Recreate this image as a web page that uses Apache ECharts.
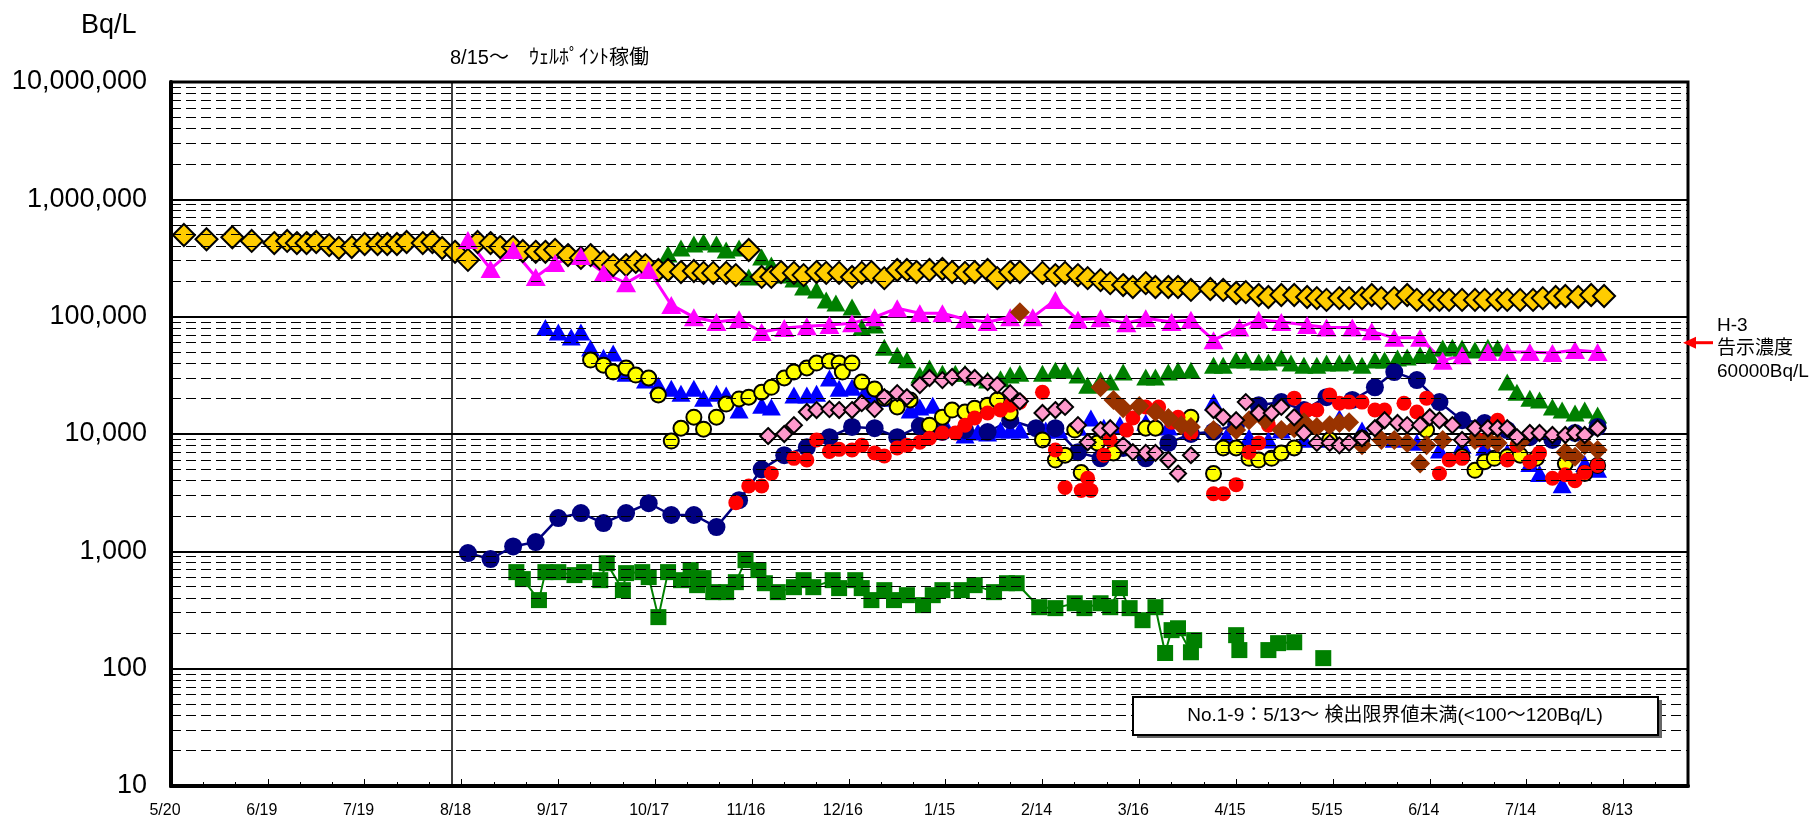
<!DOCTYPE html>
<html>
<head>
<meta charset="utf-8">
<title>H-3 濃度推移</title>
<script src="https://cdn.jsdelivr.net/npm/echarts@6/dist/echarts.min.js"></script>
<style>
  html, body { margin: 0; padding: 0; background: #fff; }
  #chart { width: 1818px; height: 825px; }
</style>
</head>
<body>
<div id="chart"></div>
<script>
// x = days since 2013-05-20, y = Bq/L
const xTickLabels = ['5/20', '6/19', '7/19', '8/18', '9/17', '10/17', '11/16', '12/16', '1/15', '2/14', '3/16', '4/15', '5/15', '6/14', '7/14', '8/13']
const yTickLabels = ['10', '100', '1,000', '10,000', '100,000', '1,000,000', '10,000,000']
const wellPointDay = 87 // 8/15
const limitValue = 60000

const goldDiamond = [[4,497000],[11,457000],[19,475000],[25,442000],[32,424000],[36,442000],[39,424000],[42,424000],[45,433000],[49,407000],[52,385000],[56,392000],[60,416000],[64,416000],[67,416000],[70,416000],[73,433000],[78,424000],[81,433000],[84,385000],[88,357000],[92,305000],[95,433000],[99,424000],[102,392000],[106,392000],[109,363000],[113,357000],[116,357000],[119,371000],[123,335000],[127,317000],[130,335000],[134,293000],[137,275000],[141,275000],[144,293000],[147,275000],[151,250000],[154,250000],[158,240000],[162,245000],[165,236000],[168,236000],[172,236000],[175,226000],[179,370000],[183,218000],[186,218000],[189,240000],[193,236000],[196,226000],[200,240000],[203,236000],[207,236000],[211,218000],[214,236000],[217,240000],[221,213000],[225,250000],[228,250000],[231,240000],[235,250000],[239,255000],[242,240000],[246,236000],[249,240000],[253,250000],[256,213000],[260,240000],[263,240000],[270,236000],[274,226000],[277,236000],[281,226000],[284,213000],[288,205000],[291,193000],[295,186000],[298,179000],[302,193000],[305,179000],[309,179000],[312,179000],[316,169000],[322,172000],[326,169000],[330,159000],[333,162000],[337,153000],[340,147000],[344,153000],[348,153000],[352,147000],[355,144000],[358,139000],[362,144000],[365,144000],[369,144000],[372,153000],[375,144000],[379,144000],[383,153000],[386,139000],[390,139000],[393,139000],[396,139000],[400,139000],[404,139000],[407,139000],[411,139000],[414,139000],[418,139000],[422,139000],[425,144000],[429,147000],[432,150000],[436,147000],[440,153000],[444,150000]]

const magentaTriangle = [[92,450000],[99,255000],[106,370000],[113,218000],[119,287000],[127,329000],[134,236000],[141,193000],[148,250000],[155,126000],[162,99000],[169,90000],[176,95000],[183,74000],[190,80000],[197,83000],[204,85000],[211,88000],[218,99000],[225,118000],[232,107000],[239,107000],[246,95000],[253,90000],[260,99000],[267,99000],[274,139000],[281,94000],[288,97000],[296,88000],[302,97000],[310,90000],[316,94000],[323,63000],[331,81000],[337,94000],[344,90000],[352,85000],[358,81000],[366,81000],[372,75000],[379,66000],[387,66000],[394,42000],[400,47000],[408,50000],[414,50000],[421,50000],[428,49000],[435,52000],[442,50000]]

const greenTriangle = [[154,342000],[158,385000],[162,416000],[165,433000],[169,416000],[172,370000],[176,385000],[179,218000],[183,322000],[186,275000],[190,226000],[193,209000],[196,179000],[200,169000],[203,139000],[206,131000],[211,121000],[214,81000],[218,85000],[221,55000],[225,47000],[228,43000],[232,31800],[235,36500],[239,33000],[243,33000],[246,33000],[249,30600],[253,28800],[257,29500],[260,31800],[263,33000],[270,33000],[274,35000],[277,35000],[281,31800],[284,26000],[288,28800],[291,27700],[295,33700],[302,30600],[305,30600],[309,33700],[312,35000],[316,35000],[323,38600],[326,38600],[330,42700],[333,42700],[337,41000],[340,41000],[344,44400],[347,40200],[351,38600],[355,38600],[358,40200],[362,40200],[365,41000],[369,38600],[373,42700],[376,42700],[380,44400],[383,45300],[387,47100],[390,47100],[394,54000],[397,55000],[400,54000],[404,51900],[408,55000],[411,54000],[414,27700],[417,22700],[421,20200],[424,19500],[428,17000],[431,16000],[435,15100],[438,16000],[442,14500]]

const blueTriangle = [[116,81000],[120,74000],[124,67000],[127,74000],[130,54000],[134,45000],[137,49000],[141,33000],[147,28800],[151,26000],[155,24600],[158,22300],[162,24600],[165,20200],[169,22300],[172,21500],[176,16000],[183,17600],[186,17000],[193,21500],[197,21500],[200,22300],[204,30000],[207,24600],[211,25000],[215,22700],[218,21500],[221,20200],[229,16000],[232,17000],[236,17600],[239,13100],[246,9800],[250,10400],[253,10200],[257,10800],[260,10800],[263,10800],[271,10800],[275,10800],[281,11400],[285,13700],[289,11400],[294,12000],[302,12600],[309,11500],[316,10500],[323,18700],[327,9500],[334,9400],[340,8900],[344,10800],[351,9000],[358,9000],[362,13700],[369,10800],[379,9000],[386,8500],[393,7300],[400,8000],[407,7700],[414,7000],[421,5600],[424,4600],[431,3700],[438,5600],[442,5000]]

const navyCircle = [[92,966],[99,859],[106,1100],[113,1200],[120,1920],[127,2120],[134,1740],[141,2120],[148,2570],[155,2040],[162,2040],[169,1610],[176,2730],[183,5000],[190,6600],[197,7700],[204,9400],[211,11500],[218,11200],[225,9400],[232,11700],[239,10400],[246,10800],[253,10400],[260,13100],[268,11200],[274,11200],[281,7000],[288,6200],[295,7600],[302,6200],[309,8400],[316,10000],[323,10500],[330,12000],[337,17600],[344,18700],[351,16000],[358,20600],[366,19500],[373,25000],[379,33700],[386,28800],[393,18700],[400,13100],[407,12400],[414,10800],[421,9400],[428,8900],[435,10200],[442,11500]]

const yellowCircle = [[130,42700],[134,38600],[137,33700],[141,36500],[144,31800],[148,30000],[151,21500],[155,8700],[158,11200],[162,13900],[165,11000],[169,13900],[172,18000],[176,19900],[179,20600],[183,22700],[186,25000],[190,30000],[193,33700],[197,36500],[200,40200],[204,41800],[207,40200],[208,33700],[211,40200],[214,27700],[218,24200],[221,20200],[225,17000],[229,19500],[235,11900],[239,13900],[242,16000],[246,15400],[249,16600],[253,17600],[256,19500],[260,15100],[270,8900],[274,6000],[277,6600],[280,10800],[282,4700],[287,8400],[292,6900],[302,11200],[305,11200],[316,13900],[323,4600],[326,7600],[330,7600],[334,6200],[337,6000],[341,6200],[344,6900],[348,7600],[359,8900],[369,9200],[389,10800],[400,6400],[404,4900],[407,5800],[410,6200],[414,6400],[418,6600],[423,6200],[432,5600],[438,4600],[442,5400]]

const redCircle = [[175,2600],[179,3600],[183,3600],[186,4600],[193,6200],[197,6000],[200,8900],[204,7100],[207,7400],[211,7300],[214,8000],[218,6900],[221,6500],[225,7600],[228,8000],[232,8500],[235,9200],[239,10200],[243,10200],[246,11900],[249,13700],[253,15100],[257,16000],[260,17600],[263,18700],[270,22700],[274,7300],[277,3500],[282,3300],[284,4200],[285,3300],[289,6600],[291,8900],[296,10800],[298,13700],[302,17000],[306,17000],[310,12600],[312,13900],[316,10200],[323,3100],[326,3100],[330,3700],[334,7000],[337,8400],[340,11900],[348,20200],[352,16000],[355,16000],[359,21500],[362,18300],[365,18700],[369,18700],[373,16000],[376,16000],[382,18300],[386,15400],[389,20200],[393,4600],[396,6000],[400,6200],[405,8900],[411,13100],[414,6000],[417,8000],[421,5800],[424,6900],[428,4200],[432,4500],[435,4000],[438,4700],[442,5400]]

const pinkDiamond = [[185,9600],[190,10000],[193,11900],[197,15400],[200,16000],[204,16300],[207,16000],[211,16000],[214,18300],[218,16300],[221,20600],[225,22300],[228,20600],[232,26100],[235,30000],[239,28800],[242,30600],[246,31800],[249,30000],[253,27700],[256,26100],[260,22300],[263,19000],[270,15100],[274,16000],[277,17000],[281,11900],[284,8500],[288,10800],[291,11200],[295,8000],[298,7000],[302,6900],[305,6900],[309,6000],[312,4600],[316,6600],[323,16000],[326,13900],[330,13100],[333,18700],[337,15100],[341,15100],[344,17000],[348,13900],[351,10200],[355,8400],[359,8400],[362,8000],[365,8400],[369,9200],[373,11200],[376,13100],[380,12400],[383,11900],[387,11900],[390,13900],[393,13100],[397,11900],[400,8900],[404,11200],[408,11200],[411,11200],[414,11200],[417,9400],[421,10200],[424,10200],[428,9800],[432,9800],[435,10200],[438,9800],[442,11200]]

const brownDiamond = [[263,109000],[288,25000],[292,19500],[295,16600],[300,17300],[305,15400],[309,13700],[313,11900],[316,11500],[323,10800],[330,10800],[334,13100],[339,13100],[344,10800],[348,11200],[351,12600],[355,11500],[359,11900],[362,12400],[365,12600],[369,8000],[375,8900],[379,8900],[383,8400],[387,5600],[389,8000],[394,8900],[404,8900],[408,8900],[411,8400],[418,8500],[432,7000],[435,6400],[438,8000],[442,7300]]

// null = break in the line
const greenSquare = [[107,665],[109,580],[114,384],[116,665],[120,665],[125,627],[128,665],[133,568],[135,792],[140,467],[141,652],[146,665],[148,603],[151,275],[154,665],[158,568],[161,692],[163,515],[165,591],[168,449],[172,449],[175,546],[178,841],[182,692],[184,535],[188,449],[193,495],[196,568],[199,495],[205,568],[207,486],[212,568],[214,486],[217,384],[221,467],[224,384],[228,423],[233,348],[236,423],[239,467],[245,467],[249,515],[255,449],[259,535],[262,535],[269,334],[274,328],[280,361],[283,328],[288,361],[291,334],[294,486],[297,328],[301,259],[305,334],[308,136],[310,213],[312,221],[316,138],[317,175],[322,null],[330,193],[331,144],[335,null],[340,144],[343,165],[348,168],[352,null],[357,123]]

const FONT = "'Liberation Sans', 'Noto Sans CJK JP', sans-serif"

// 2,3,...,9 x each decade for the dashed grid
const minorGridValues = []
for (let d = 10; d < 1e7; d *= 10) {
    for (let k = 2; k <= 9; k++) minorGridValues.push(k * d)
}

const toSeriesData = (arr) => arr.map(p => p[1] == null ? [p[0], '-'] : p)

const scatterSeries = (name, data, symbol, size, color, border) => ({
    name,
    type: 'scatter',
    data: toSeriesData(data),
    symbol,
    symbolSize: size,
    z: 3,
    itemStyle: border
        ? { color, borderColor: '#000', borderWidth: 2, opacity: 1 }
        : { color, opacity: 1 }
})

const lineSeries = (name, data, symbol, size, color, width) => ({
    name,
    type: 'line',
    data: toSeriesData(data),
    symbol,
    symbolSize: size,
    showSymbol: true,
    connectNulls: false,
    z: 3,
    lineStyle: { color, width },
    itemStyle: { color, opacity: 1 }
})

const option = {
    backgroundColor: '#fff',
    animation: false,
    textStyle: { fontFamily: FONT },
    grid: {
        left: 171,
        right: 130,
        top: 82,
        bottom: 39,
        show: true,
        backgroundColor: '#fff',
        borderColor: '#000',
        borderWidth: 3,
        outerBoundsMode: 'none'
    },
    xAxis: {
        type: 'value',
        min: 0,
        max: 470,
        interval: 30,
        axisLine: { show: true, onZero: false, lineStyle: { color: '#000', width: 4 } },
        axisTick: { show: true, inside: true, length: 7, lineStyle: { color: '#000', width: 1 } },
        minorTick: { show: true, splitNumber: 3, length: 4, lineStyle: { color: '#000', width: 1 } },
        splitLine: { show: false },
        axisLabel: {
            color: '#000',
            fontSize: 16,
            fontFamily: FONT,
            margin: 17,
            padding: [0, 12, 0, 0],
            formatter: (v) => (v % 30 === 0 && xTickLabels[v / 30]) ? xTickLabels[v / 30] : ''
        }
    },
    yAxis: {
        type: 'log',
        logBase: 10,
        min: 10,
        max: 1e7,
        axisLine: { show: true, lineStyle: { color: '#000', width: 4 } },
        axisTick: { show: false },
        splitLine: { show: true, lineStyle: { color: '#000', width: 2 } },
        axisLabel: {
            color: '#000',
            fontSize: 27,
            fontFamily: FONT,
            margin: 24,
            formatter: (v) => yTickLabels[Math.round(Math.log10(v)) - 1] || ''
        }
    },
    series: [
        {
            name: 'grid',
            type: 'line',
            data: [],
            z: 1,
            silent: true,
            markLine: {
                silent: true,
                symbol: ['none', 'none'],
                label: { show: false },
                animation: false,
                data: [
                    ...minorGridValues.map(v => ({ yAxis: v, lineStyle: { color: '#000', width: 1, type: [10, 5] } })),
                    { xAxis: wellPointDay, lineStyle: { color: '#000', width: 1.5, type: 'solid' } }
                ]
            }
        },
        lineSeries('No.1-9', greenSquare, 'rect', 16, '#008000', 2),
        scatterSeries('greenTriangle', greenTriangle, 'triangle', [19, 17], '#008000', false),
        scatterSeries('goldDiamond', goldDiamond, 'diamond', 22, '#FFCC00', true),
        lineSeries('magentaTriangle', magentaTriangle, 'triangle', [20, 18], '#FF00FF', 3),
        scatterSeries('blueTriangle', blueTriangle, 'triangle', [19, 17], '#0000FF', false),
        lineSeries('navyCircle', navyCircle, 'circle', 18, '#000080', 2.5),
        scatterSeries('yellowCircle', yellowCircle, 'circle', 15, '#FFFF00', true),
        scatterSeries('redCircle', redCircle, 'circle', 15, '#FF0000', false),
        scatterSeries('brownDiamond', brownDiamond, 'diamond', 20, '#993300', false),
        scatterSeries('pinkDiamond', pinkDiamond, 'diamond', 16, '#FF99CC', true)
    ]
}

const chart = echarts.init(document.getElementById('chart'))
chart.setOption(option)

const arrowY = chart.convertToPixel({ yAxisIndex: 0 }, limitValue)
const plotRight = chart.convertToPixel({ xAxisIndex: 0 }, 470)
const tipX = plotRight - 5

chart.setOption({
    graphic: [
        {
            type: 'text',
            left: 81,
            top: 12,
            z: 100,
            style: { text: 'Bq/L', font: '27px ' + FONT, fill: '#000' }
        },
        {
            type: 'text',
            x: 450,
            y: 58,
            z: 100,
            style: { text: '8/15～　ｳｪﾙﾎﾟｲﾝﾄ稼働', font: '20px ' + FONT, fill: '#000', verticalAlign: 'middle' }
        },
        {
            type: 'text',
            x: plotRight + 29,
            y: arrowY - 28,
            z: 100,
            style: { text: 'H-3\n告示濃度\n60000Bq/L', font: '19px ' + FONT, lineHeight: 23, fill: '#000', verticalAlign: 'top' }
        },
        {
            type: 'line',
            z: 100,
            shape: { x1: tipX + 10, y1: arrowY, x2: tipX + 30, y2: arrowY },
            style: { stroke: '#FF0000', lineWidth: 3 }
        },
        {
            type: 'polygon',
            z: 100,
            shape: { points: [[tipX, arrowY], [tipX + 13, arrowY - 6], [tipX + 13, arrowY + 6]] },
            style: { fill: '#FF0000' }
        },
        {
            type: 'rect',
            z: 100,
            shape: { x: 1137, y: 700, width: 525, height: 38 },
            style: { fill: '#666' }
        },
        {
            type: 'rect',
            z: 101,
            shape: { x: 1133, y: 697, width: 525, height: 38 },
            style: { fill: '#fff', stroke: '#000', lineWidth: 2 }
        },
        {
            type: 'text',
            x: 1395,
            y: 716,
            z: 102,
            style: {
                text: 'No.1-9：5/13～ 検出限界値未満(<100～120Bq/L)',
                font: '19px ' + FONT,
                fill: '#000',
                align: 'center',
                verticalAlign: 'middle'
            }
        }
    ]
})
</script>
</body>
</html>
